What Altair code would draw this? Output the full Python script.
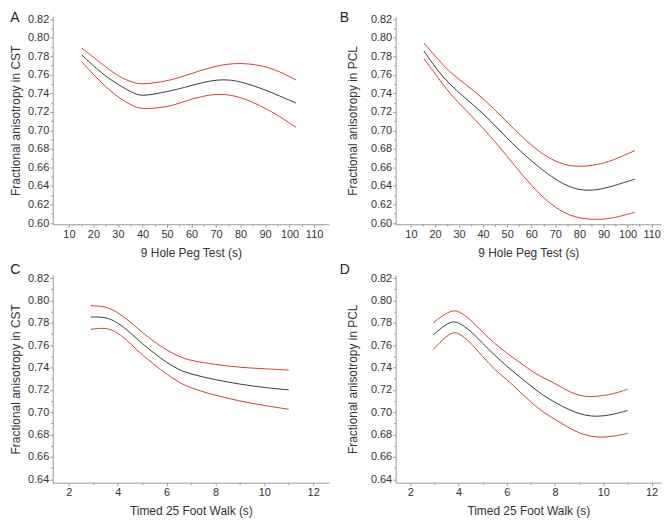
import altair as alt
import pandas as pd

FONT = "Liberation Sans"
RED = "#c8442f"
BLACK = "#3a3a3a"
AXIS_GRAY = "#9a9a9a"
TEXT = "#333333"

# ---------------- Panel A : 9 Hole Peg Test vs FA in CST ----------------
a_x = [15.3, 23.4, 30.2, 36.9, 40.3, 50.5, 57.2, 64.0, 70.8, 77.5, 84.3, 91.1, 97.8, 102.6]
a_mean = [0.7813, 0.7612, 0.7490, 0.7391, 0.7367, 0.7420, 0.7462, 0.7514, 0.7549, 0.7543, 0.7490, 0.7427, 0.7349, 0.7296]
a_upper = [0.7887, 0.7718, 0.7578, 0.7507, 0.7496, 0.7532, 0.7588, 0.7648, 0.7700, 0.7725, 0.7718, 0.7683, 0.7612, 0.7543]
a_lower = [0.7736, 0.7507, 0.7349, 0.7251, 0.7228, 0.7251, 0.7314, 0.7367, 0.7395, 0.7377, 0.7314, 0.7226, 0.7120, 0.7032]

# ---------------- Panel B : 9 Hole Peg Test vs FA in PCL ----------------
b_x = [15.4, 20.6, 26.0, 32.8, 39.6, 46.3, 53.1, 59.9, 66.7, 73.5, 80.2, 87.0, 93.7, 103.0]
b_mean = [0.7857, 0.7662, 0.7496, 0.7344, 0.7192, 0.7015, 0.6831, 0.6672, 0.6530, 0.6414, 0.6350, 0.6353, 0.6396, 0.6474]
b_upper = [0.7942, 0.7786, 0.7627, 0.7496, 0.7355, 0.7185, 0.7008, 0.6838, 0.6707, 0.6626, 0.6605, 0.6626, 0.6672, 0.6782]
b_lower = [0.7776, 0.7592, 0.7397, 0.7220, 0.7036, 0.6838, 0.6619, 0.6407, 0.6230, 0.6106, 0.6049, 0.6035, 0.6049, 0.6116]

# ---------------- Panel C : Timed 25 Foot Walk vs FA in CST ----------------
c_x = [2.9, 3.5, 4.0, 4.5, 5.0, 5.5, 6.0, 6.5, 7.0, 8.0, 9.0, 10.0, 11.0]
c_mean = [0.7851, 0.7854, 0.7803, 0.7715, 0.7614, 0.7526, 0.7445, 0.7380, 0.7340, 0.7290, 0.7250, 0.7220, 0.7200]
c_upper = [0.7953, 0.7947, 0.7895, 0.7810, 0.7715, 0.7628, 0.7556, 0.7498, 0.7460, 0.7427, 0.7400, 0.7389, 0.7377]
c_lower = [0.7741, 0.7759, 0.7715, 0.7620, 0.7511, 0.7426, 0.7340, 0.7267, 0.7215, 0.7150, 0.7099, 0.7060, 0.7026]

# ---------------- Panel D : Timed 25 Foot Walk vs FA in PCL ----------------
d_x = [2.95, 3.5, 3.8, 4.0, 4.5, 5.0, 5.5, 6.0, 6.5, 7.0, 7.5, 8.0, 8.5, 9.0, 9.5, 10.0, 10.5, 11.0]
d_mean = [0.7692, 0.7794, 0.7812, 0.7803, 0.7730, 0.7613, 0.7510, 0.7410, 0.7322, 0.7235, 0.7150, 0.7087, 0.7030, 0.6985, 0.6962, 0.6965, 0.6985, 0.7015]
d_upper = [0.7802, 0.7890, 0.7910, 0.7904, 0.7830, 0.7715, 0.7613, 0.7526, 0.7452, 0.7371, 0.7308, 0.7258, 0.7191, 0.7148, 0.7136, 0.7148, 0.7168, 0.7206]
d_lower = [0.7561, 0.7685, 0.7715, 0.7709, 0.7626, 0.7495, 0.7380, 0.7293, 0.7191, 0.7089, 0.7000, 0.6936, 0.6869, 0.6811, 0.6782, 0.6773, 0.6788, 0.6811]

# ---------------- axis tick values ----------------
peg_ticks = [10, 20, 30, 40, 50, 60, 70, 80, 90, 100, 110]
peg_minor = [15, 25, 35, 45, 55, 65, 75, 85, 95, 105]
walk_ticks = [2, 4, 6, 8, 10, 12]
walk_minor = [3, 5, 7, 9, 11]
fa_ticks_top = [0.60, 0.62, 0.64, 0.66, 0.68, 0.70, 0.72, 0.74, 0.76, 0.78, 0.80, 0.82]
fa_minor_top = [0.61, 0.63, 0.65, 0.67, 0.69, 0.71, 0.73, 0.75, 0.77, 0.79, 0.81]
fa_ticks_bot = [0.64, 0.66, 0.68, 0.70, 0.72, 0.74, 0.76, 0.78, 0.80, 0.82]
fa_minor_bot = [0.65, 0.67, 0.69, 0.71, 0.73, 0.75, 0.77, 0.79, 0.81]

SERIES = ["upper", "mean", "lower"]


def panel(letter, xs, mean, upper, lower, xdom, ydom, xt, xm, yt, ym,
          xtitle, ytitle, w, h, letter_dx, letter_offset, ytitle_pad):
    rows = []
    for name, ys in zip(SERIES, (upper, mean, lower)):
        for x, y in zip(xs, ys):
            rows.append({"x": x, "y": y, "series": name})
    df = pd.DataFrame(rows)
    xs_ = alt.Scale(domain=xdom, nice=False, zero=False)
    ys_ = alt.Scale(domain=ydom, nice=False, zero=False)

    lines = alt.Chart(df).mark_line(strokeWidth=1.0, interpolate="basis").encode(
        x=alt.X("x:Q", scale=xs_, axis=alt.Axis(
            orient="bottom", values=xt, format="d", title=xtitle, tickSize=3,
            labelPadding=1, titlePadding=8.5, grid=False)),
        y=alt.Y("y:Q", scale=ys_, axis=alt.Axis(
            orient="left", values=yt, format=".2f", title=ytitle, tickSize=3,
            labelPadding=1, titlePadding=ytitle_pad, grid=False)),
        color=alt.Color("series:N", scale=alt.Scale(domain=SERIES, range=[RED, BLACK, RED]),
                        legend=None),
    )
    minor = alt.Chart(df).mark_point(opacity=0).encode(
        x=alt.X("x:Q", scale=xs_, axis=alt.Axis(
            orient="bottom", values=xm, labels=False, domain=False, tickSize=2,
            title=None, grid=False)),
        y=alt.Y("y:Q", scale=ys_, axis=alt.Axis(
            orient="left", values=ym, labels=False, domain=False, tickSize=2,
            title=None, grid=False)),
    )
    return alt.layer(lines, minor).resolve_axis(x="independent", y="independent").properties(
        width=w, height=h,
        title=alt.TitleParams(letter, anchor="start", frame="group", dx=letter_dx,
                              offset=letter_offset, fontSize=14, fontWeight="normal",
                              font=FONT, color="#222222"),
    )


H = 209
A = panel("A", a_x, a_mean, a_upper, a_lower, [3.4, 116.1], [0.5987, 0.8228],
          peg_ticks, peg_minor, fa_ticks_top, fa_minor_top,
          "9 Hole Peg Test (s)", "Fractional anisotropy in CST", 278, H, -42.7, -11.5, 5.3)
B = panel("B", b_x, b_mean, b_upper, b_lower, [3.66, 113.9], [0.5987, 0.8228],
          peg_ticks, peg_minor, fa_ticks_top, fa_minor_top,
          "9 Hole Peg Test (s)", "Fractional anisotropy in PCL", 267, H, -56.3, -11.5, 11.3)
C = panel("C", c_x, c_mean, c_upper, c_lower, [1.34, 12.65], [0.637, 0.8228],
          walk_ticks, walk_minor, fa_ticks_bot, fa_minor_bot,
          "Timed 25 Foot Walk (s)", "Fractional anisotropy in CST", 278, H, -42.7, -4.8, 5.3)
D = panel("D", d_x, d_mean, d_upper, d_lower, [1.39, 12.39], [0.637, 0.8228],
          walk_ticks, walk_minor, fa_ticks_bot, fa_minor_bot,
          "Timed 25 Foot Walk (s)", "Fractional anisotropy in PCL", 267, H, -56.3, -4.8, 11.3)

chart = alt.vconcat(
    alt.hconcat(A, B, spacing=9),
    alt.hconcat(C, D, spacing=9),
    spacing=3,
).properties(
    padding={"left": 0, "top": 0, "right": 0, "bottom": 0},
    background="white",
).configure_view(
    stroke="transparent"
).configure_axis(
    labelFont=FONT, labelFontSize=11, labelColor=TEXT,
    titleFont=FONT, titleFontSize=12, titleFontWeight="normal", titleColor=TEXT,
    domainColor=AXIS_GRAY, tickColor=AXIS_GRAY, domainWidth=1, tickWidth=1,
)

chart.save("out.html", embed_options={"renderer": "svg", "actions": False})
